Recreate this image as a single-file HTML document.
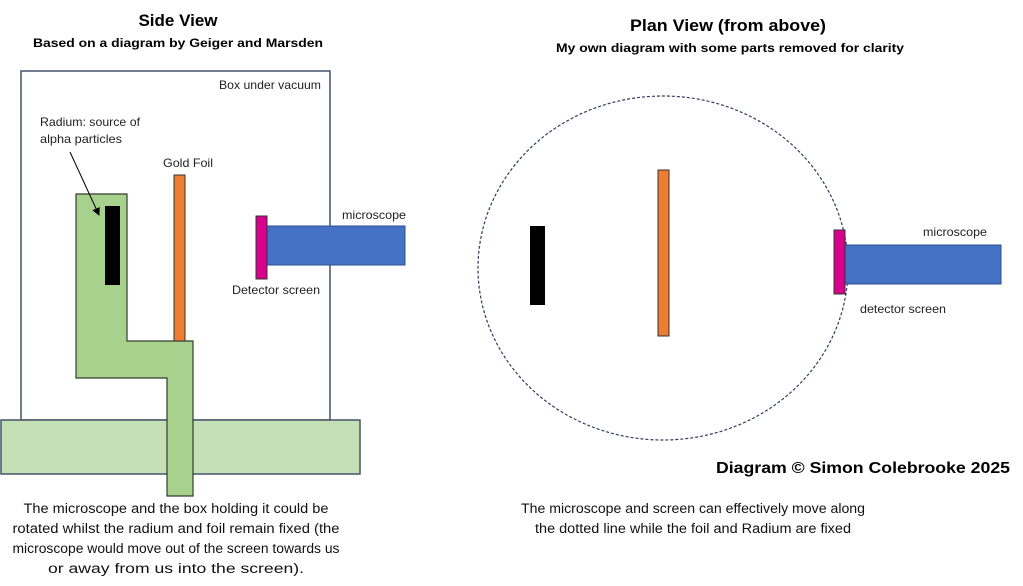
<!DOCTYPE html>
<html><head><meta charset="utf-8"><style>
html,body{margin:0;padding:0;background:#fff;}
svg{display:block;font-family:"Liberation Sans",sans-serif;}
</style></head><body>
<svg width="1023" height="586" viewBox="0 0 1023 586">
<defs><marker id="ah" markerWidth="8" markerHeight="8" refX="7" refY="4" orient="auto" markerUnits="userSpaceOnUse"><path d="M0,0 L8,4 L0,8 z" fill="#000"/></marker></defs>
<!-- titles -->
<text x="178" y="26" font-size="17" font-weight="bold" text-anchor="middle" fill="#000">Side View</text>
<text x="178" y="47" font-size="12" font-weight="bold" text-anchor="middle" textLength="290" lengthAdjust="spacingAndGlyphs">Based on a diagram by Geiger and Marsden</text>
<text x="728" y="31" font-size="17" font-weight="bold" text-anchor="middle" textLength="196" lengthAdjust="spacingAndGlyphs">Plan View (from above)</text>
<text x="730" y="52" font-size="12" font-weight="bold" text-anchor="middle" textLength="348" lengthAdjust="spacingAndGlyphs">My own diagram with some parts removed for clarity</text>
<!-- side view -->
<rect x="21" y="71" width="309" height="349" fill="#fff" stroke="#44546a" stroke-width="1.5"/>
<text x="321" y="89" font-size="12" text-anchor="end" textLength="102" lengthAdjust="spacingAndGlyphs" fill="#222">Box under vacuum</text>
<rect x="1" y="420" width="359" height="54" fill="#c5e0b4" stroke="#44546a" stroke-width="1.5"/>
<polygon points="76,194 127,194 127,341 193,341 193,496 167,496 167,378 76,378" fill="#a9d18e" stroke="#2f3f2a" stroke-width="1.2"/>
<rect x="105" y="206" width="15" height="79" fill="#000"/>
<rect x="174" y="175" width="11" height="166" fill="#ed7d31" stroke="#333" stroke-width="1"/>
<rect x="267" y="226" width="138" height="39" fill="#4472c4" stroke="#2f4f8f" stroke-width="1"/>
<rect x="256" y="216" width="11" height="63" fill="#d9008d" stroke="#333" stroke-width="1"/>
<text x="40" y="126" font-size="12" fill="#222" textLength="100" lengthAdjust="spacingAndGlyphs">Radium: source of</text>
<text x="40" y="143" font-size="12" fill="#222" textLength="82" lengthAdjust="spacingAndGlyphs">alpha particles</text>
<line x1="70" y1="152" x2="99" y2="215" stroke="#000" stroke-width="1" marker-end="url(#ah)"/>
<text x="163" y="167" font-size="12" fill="#222" textLength="50" lengthAdjust="spacingAndGlyphs">Gold Foil</text>
<text x="342" y="219" font-size="12" fill="#222" textLength="64" lengthAdjust="spacingAndGlyphs">microscope</text>
<text x="232" y="294" font-size="12" fill="#222" textLength="88" lengthAdjust="spacingAndGlyphs">Detector screen</text>
<g font-size="13.5" text-anchor="middle" fill="#111">
<text x="176" y="513" textLength="305" lengthAdjust="spacingAndGlyphs">The microscope and the box holding it could be</text>
<text x="176" y="533" textLength="327" lengthAdjust="spacingAndGlyphs">rotated whilst the radium and foil remain fixed (the</text>
<text x="176" y="553" textLength="327" lengthAdjust="spacingAndGlyphs">microscope would move out of the screen towards us</text>
<text x="176" y="573" textLength="256" lengthAdjust="spacingAndGlyphs">or away from us into the screen).</text>
</g>
<!-- plan view -->
<ellipse cx="663" cy="268" rx="185" ry="172" fill="none" stroke="#2f3f5f" stroke-width="1.2" stroke-dasharray="3,2"/>
<rect x="530" y="226" width="15" height="79" fill="#000"/>
<rect x="658" y="170" width="11" height="166" fill="#ed7d31" stroke="#333" stroke-width="1"/>
<rect x="845" y="245" width="156" height="39" fill="#4472c4" stroke="#2f4f8f" stroke-width="1"/>
<rect x="834" y="230" width="11" height="64" fill="#d9008d" stroke="#333" stroke-width="1"/>
<text x="923" y="236" font-size="12" fill="#222" textLength="64" lengthAdjust="spacingAndGlyphs">microscope</text>
<text x="860" y="313" font-size="12" fill="#222" textLength="86" lengthAdjust="spacingAndGlyphs">detector screen</text>
<text x="1010" y="473" font-size="16" font-weight="bold" text-anchor="end" fill="#000" textLength="294" lengthAdjust="spacingAndGlyphs">Diagram © Simon Colebrooke 2025</text>
<g font-size="13.5" text-anchor="middle" fill="#111">
<text x="693" y="513" textLength="344" lengthAdjust="spacingAndGlyphs">The microscope and screen can effectively move along</text>
<text x="693" y="533" textLength="316" lengthAdjust="spacingAndGlyphs">the dotted line while the foil and Radium are fixed</text>
</g>
</svg>
</body></html>
